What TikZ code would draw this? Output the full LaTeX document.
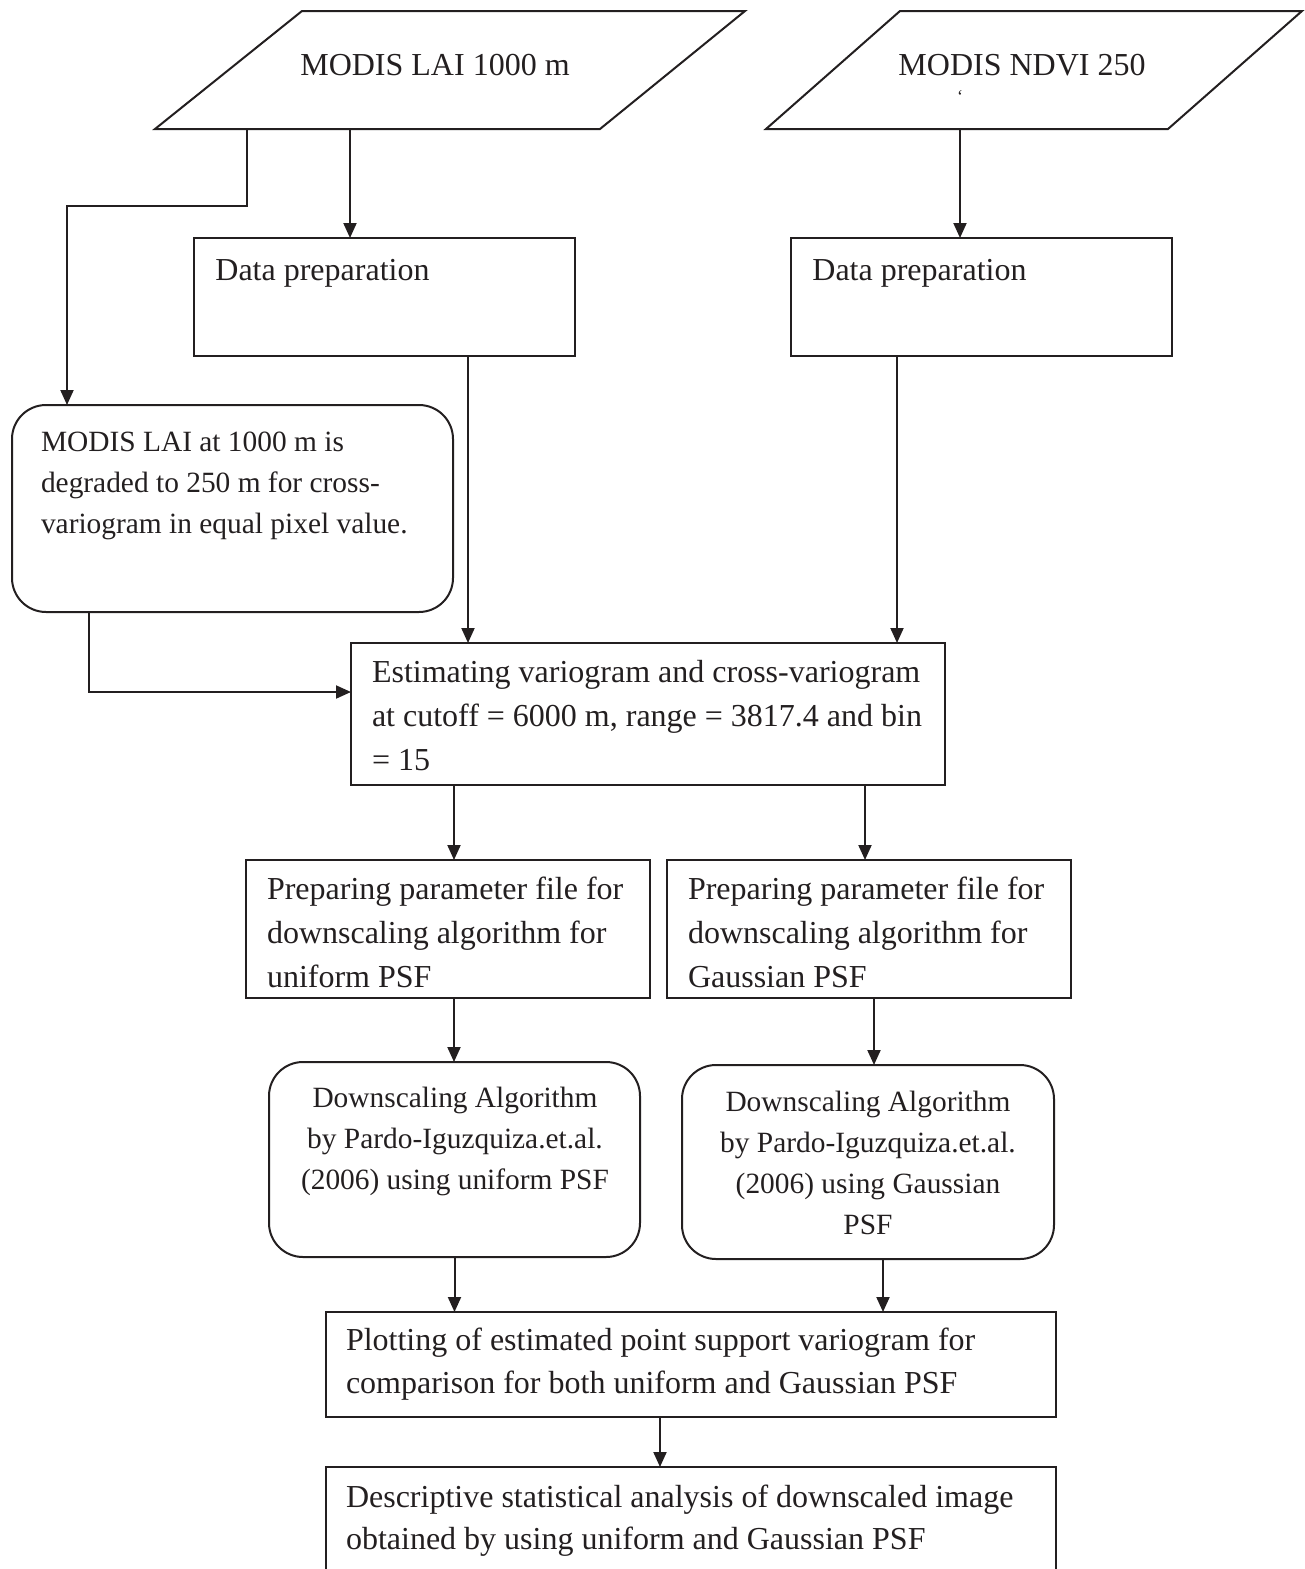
\documentclass[tikz,border=0pt]{standalone}
\usepackage{fontspec}
\setmainfont{Liberation Serif}
\usetikzlibrary{arrows.meta}
\definecolor{ink}{RGB}{35,31,32}
\newcommand\fontA{\fontsize{16pt}{22pt}\selectfont}
\newcommand\fontB{\fontsize{14.7pt}{20.5pt}\selectfont}
\newcommand\sps{\spaceskip=0.25em\relax\xspaceskip=0.25em\relax}
\begin{document}
\begin{tikzpicture}[x=0.5pt,y=-0.5pt,
  box/.style={draw=ink,line width=1pt,rectangle,inner sep=0pt,outer sep=0pt,anchor=north west},
  rbox/.style={box,rounded corners=17pt},
  txtA/.style={inner sep=0pt,outer sep=0pt,anchor=north west,align=left,text width=#1,font=\fontA,text=ink},
  txtB/.style={inner sep=0pt,outer sep=0pt,anchor=north west,align=left,text width=#1,font=\fontB,text=ink},
  txtC/.style={inner sep=0pt,outer sep=0pt,anchor=north,align=center,text width=#1,font=\fontB,text=ink},
  arr/.style={draw=ink,line width=1pt,-{Triangle[length=7.5pt,width=6.5pt]}},
  para/.style={draw=ink,line width=1pt,line join=miter}
]
\useasboundingbox (0,0) rectangle (1305,1569);
\clip (0,0) rectangle (1305,1569);

% input parallelograms
\draw[para] (302,11) -- (745,11) -- (600,129) -- (155,129) -- cycle;
\draw[para] (900,11) -- (1302,11) -- (1168,129) -- (766,129) -- cycle;
\node[inner sep=0pt,anchor=base,font=\fontA,text=ink] (lai) at (435,75) {MODIS LAI 1000 m};
\node[inner sep=0pt,anchor=base,font=\fontA,text=ink] (ndvi) at (1022,75) {MODIS NDVI 250};
\node[inner sep=0pt,font=\fontsize{9pt}{9pt}\selectfont,text=ink] (tick) at (960,97) {\char"60};
\coordinate (p1a) at (247,129);
\coordinate (p1b) at (350,129);
\coordinate (p2b) at (960,129);

% boxes
\node[box,minimum width=190.5pt,minimum height=59pt] (dp1) at (194,238) {};
\node[box,minimum width=190.5pt,minimum height=59pt] (dp2) at (791,238) {};
\node[rbox,minimum width=220.5pt,minimum height=103.5pt] (r1) at (12,405) {};
\node[box,minimum width=297pt,minimum height=71pt] (est) at (351,643) {};
\node[box,minimum width=202pt,minimum height=69pt] (pl) at (246,860) {};
\node[box,minimum width=202pt,minimum height=69pt] (pr) at (667,860) {};
\node[rbox,minimum width=185.5pt,minimum height=97.5pt] (rl) at (269,1062) {};
\node[rbox,minimum width=186pt,minimum height=97pt] (rr) at (682,1065) {};
\node[box,minimum width=365pt,minimum height=52.5pt] (plot) at (326,1312) {};
\node[box,minimum width=365pt,minimum height=80pt] (desc) at (326,1467) {};

% texts
\node[inner sep=0pt,anchor=base west,font=\fontA,text=ink] (dp1t) at (215,280) {Data preparation};
\node[inner sep=0pt,anchor=base west,font=\fontA,text=ink] (dp2t) at (812,280) {Data preparation};
\node[txtB=215pt] (r1t) at (41,423) {\sps\strut MODIS LAI at 1000 m is\\degraded to 250 m for cross-\\variogram in equal pixel value.};
\node[txtA=300pt] (estt) at (372,652) {\sps\strut Estimating variogram and cross-variogram\\at cutoff = 6000 m, range = 3817.4 and bin\\= 15};
\node[txtA=200pt] (plt) at (267,869) {\sps\strut Preparing parameter file for\\downscaling algorithm for\\uniform PSF};
\node[txtA=200pt] (prt) at (688,869) {\sps\strut Preparing parameter file for\\downscaling algorithm for\\Gaussian PSF};
\node[txtC=180pt] (rlt) at (455,1079) {\sps\strut Downscaling Algorithm\\by Pardo-Iguzquiza.et.al.\\(2006) using uniform PSF};
\node[txtC=180pt] (rrt) at (868,1083) {\sps\strut Downscaling Algorithm\\by Pardo-Iguzquiza.et.al.\\(2006) using Gaussian\\PSF};
\node[txtA=360pt,font=\fontsize{16pt}{21.5pt}\selectfont] (plott) at (346,1320) {\sps\strut Plotting of estimated point support variogram for\\comparison for both uniform and Gaussian PSF};
\node[txtA=360pt,font=\fontsize{16pt}{21pt}\selectfont] (desct) at (346,1478) {\sps\strut Descriptive statistical analysis of downscaled image\\obtained by using uniform and Gaussian PSF};

% connectors
\draw[arr] (p1a) -- (247,206) -| ([xshift=27.5pt]r1.north west);
\draw[arr] (p1b) -- (p1b |- dp1.north);
\draw[arr] (p2b) -- (p2b |- dp2.north);
\draw[arr] ([xshift=-53.5pt]dp1.south east) -- ([xshift=-53.5pt]dp1.south east |- est.north);
\draw[arr] ([xshift=53pt]dp2.south west) -- ([xshift=53pt]dp2.south west |- est.north);
\draw[arr] ([xshift=38.5pt]r1.south west) |- ([yshift=11pt]est.west);
\draw[arr] ([xshift=51.5pt]est.south west) -- ([xshift=51.5pt]est.south west |- pl.north);
\draw[arr] ([xshift=257pt]est.south west) -- ([xshift=257pt]est.south west |- pr.north);
\draw[arr] ([xshift=104pt]pl.south west) -- ([xshift=104pt]pl.south west |- rl.north);
\draw[arr] ([xshift=103.5pt]pr.south west) -- ([xshift=103.5pt]pr.south west |- rr.north);
\draw[arr] (rl.south) -- (rl.south |- plot.north);
\draw[arr] ([xshift=100.5pt]rr.south west) -- ([xshift=100.5pt]rr.south west |- plot.north);
\draw[arr] ([xshift=167pt]plot.south west) -- ([xshift=167pt]plot.south west |- desc.north);
\end{tikzpicture}
\end{document}
